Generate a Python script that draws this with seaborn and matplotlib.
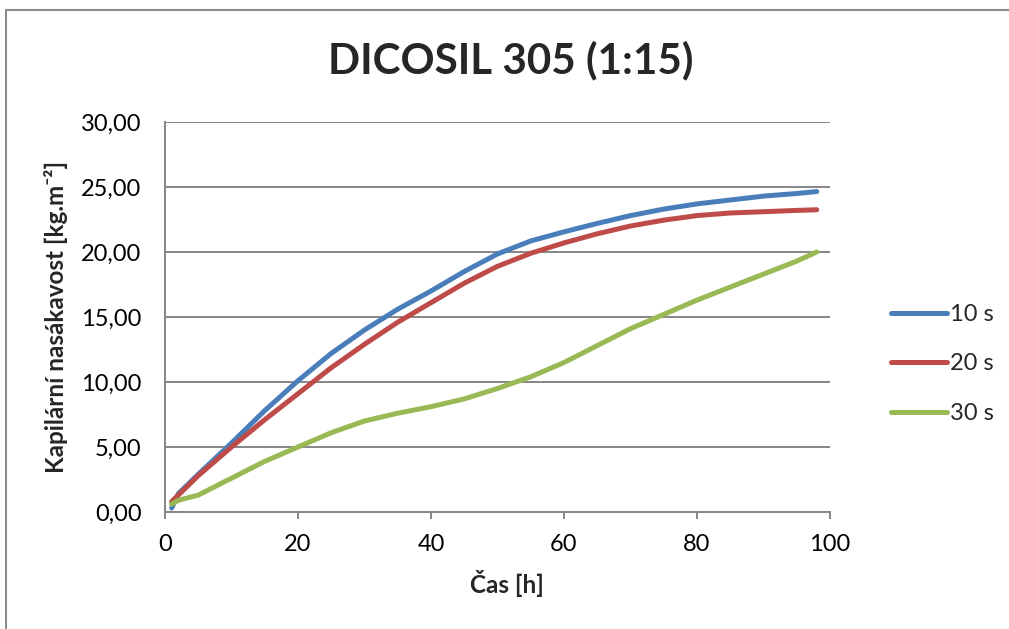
import numpy as np
import pandas as pd
import matplotlib
matplotlib.use("Agg")
import matplotlib.pyplot as plt
import seaborn as sns
from matplotlib.patches import Rectangle

hours = [1, 2, 5, 10, 15, 20, 25, 30, 35, 40, 45, 50, 55, 60, 65, 70, 75, 80, 85, 90, 95, 98]
s10 = [0.3, 1.4, 2.9, 5.3, 7.8, 10.1, 12.2, 14.0, 15.6, 17.0, 18.5, 19.85, 20.85, 21.55, 22.2, 22.8, 23.3, 23.7, 24.0, 24.3, 24.5, 24.65]
s20 = [0.8, 1.3, 2.8, 5.0, 7.1, 9.1, 11.1, 12.9, 14.6, 16.1, 17.6, 18.9, 19.9, 20.7, 21.4, 22.0, 22.45, 22.8, 23.0, 23.1, 23.2, 23.25]
s30 = [0.6, 0.9, 1.3, 2.6, 3.9, 5.0, 6.1, 7.0, 7.6, 8.1, 8.7, 9.5, 10.4, 11.5, 12.8, 14.1, 15.2, 16.3, 17.3, 18.3, 19.3, 20.0]
series_names = ["10 s", "20 s", "30 s"]
y_ticks = [0, 5, 10, 15, 20, 25, 30]
y_tick_labels = ["0,00", "5,00", "10,00", "15,00", "20,00", "25,00", "30,00"]
x_ticks = [0, 20, 40, 60, 80, 100]
title = "DICOSIL 305 (1:15)"
x_label = "Čas [h]"
y_label = "Kapilární nasákavost [kg.m⁻²]"

df = pd.concat([
    pd.DataFrame({"x": hours, "y": vals, "s": name})
    for name, vals in zip(series_names, [s10, s20, s30])
])

sns.set_theme(style="white")
plt.rcParams['font.family'] = ['Lato', 'DejaVu Sans']

W, H = 1009, 629
fig = plt.figure(figsize=(W / 100, H / 100), dpi=100)
ax = fig.add_axes([165 / W, 1 - 512 / H, (830 - 165) / W, (512 - 122) / H])

palette = {"10 s": "#4A7EBB", "20 s": "#BE4B48", "30 s": "#98B954"}
LW = 3.6
sns.lineplot(data=df, x="x", y="y", hue="s", palette=palette, linewidth=LW,
             ax=ax, legend=True, solid_capstyle="round", solid_joinstyle="round")

ax.set_xlim(0, 100)
ax.set_ylim(0, 30)
ax.set_xticks(x_ticks)
ax.set_xticklabels([str(t) for t in x_ticks], fontsize=17, color="#000000")
ax.set_yticks(y_ticks)
ax.set_yticklabels(y_tick_labels, fontsize=17, color="#000000")
ax.yaxis.grid(True, color="#868686", linewidth=1.4)
ax.set_axisbelow(True)
for side in ["top", "right"]:
    ax.spines[side].set_visible(False)
for side in ["left", "bottom"]:
    ax.spines[side].set_color("#868686")
    ax.spines[side].set_linewidth(1.4)
ax.tick_params(axis="x", which="major", direction="out", length=5, width=1.4,
               color="#868686", bottom=True, pad=11)
ax.tick_params(axis="y", which="major", length=0, left=False, pad=17)

ax.set_xlabel(x_label, fontsize=17.5, fontweight="bold")
ax.xaxis.set_label_coords((507 - 165) / (830 - 165), -(570 - 512) / (512 - 122))
ax.set_ylabel(y_label, fontsize=17.5, fontweight="bold")
ax.yaxis.set_label_coords(-(165 - 68) / (830 - 165), 0.5)

fig.text(511 / W, 1 - 60 / H, title, fontsize=30.3, fontweight="bold",
         ha="center", va="center")

handles, labels = ax.get_legend_handles_labels()
leg = ax.legend(handles, labels, loc="center left",
                bbox_to_anchor=(870 / W, 1 - 364 / H), bbox_transform=fig.transFigure,
                frameon=False, fontsize=17, handlelength=2.35, handletextpad=0.15,
                labelspacing=1.2)
for ln in leg.get_lines():
    ln.set_linewidth(LW)
    ln.set_solid_capstyle("round")

fig.patches.append(Rectangle((6 / W, -0.1), 1.5, 1 - 10 / H + 0.1, transform=fig.transFigure,
                             fill=False, edgecolor="#8c8c8c", linewidth=1.5))

fig.savefig("out.png", dpi=100)
